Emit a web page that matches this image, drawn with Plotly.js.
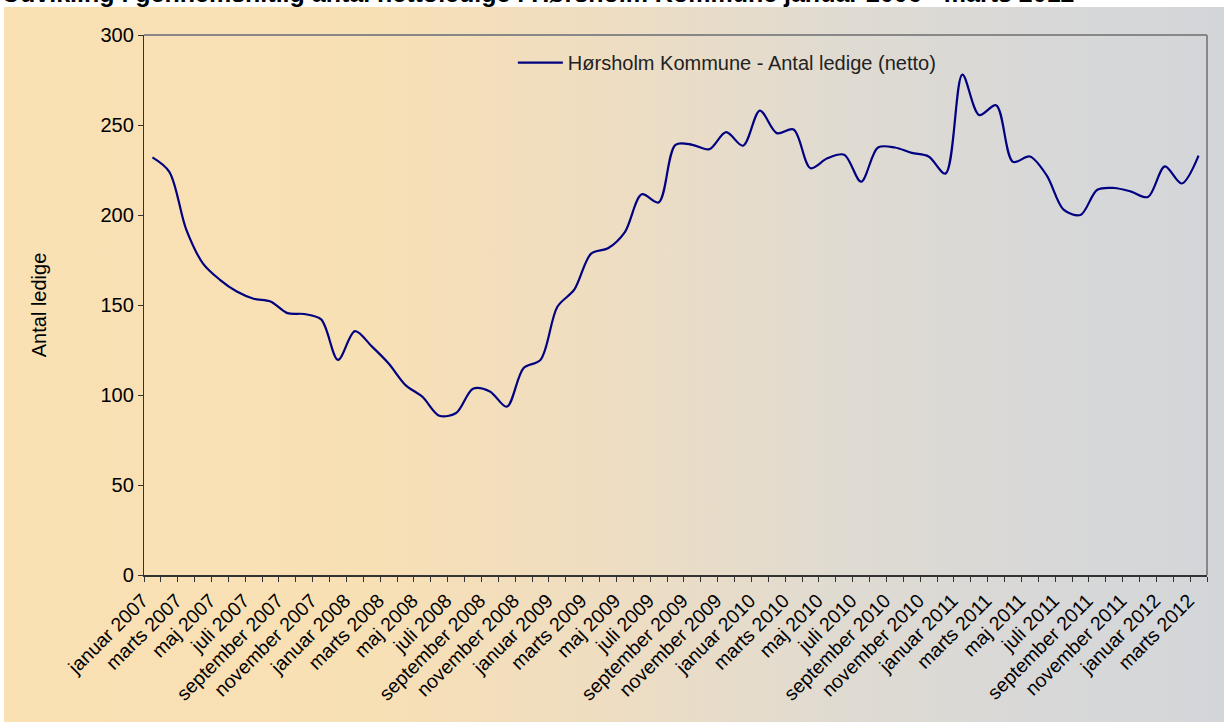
<!DOCTYPE html>
<html>
<head>
<meta charset="utf-8">
<script src="https://cdn.plot.ly/plotly-3.0.1.min.js"></script>
<style>
html,body{margin:0;padding:0;background:#ffffff;overflow:hidden;}
#bg{position:absolute;left:4px;top:7px;width:1220px;height:715px;
background:linear-gradient(to right,#FAE1B4 0%,#F8E0B5 30%,#EEDDC2 50%,#E0DBD1 68%,#D8D8D8 85%,#D3D6D9 100%);}
#chart{position:absolute;left:0;top:0;width:1224px;height:722px;}
</style>
</head>
<body>
<div id="bg"></div>
<div id="chart"></div>
<script>
const monthNames = ["januar","februar","marts","april","maj","juni","juli","august","september","oktober","november","december"];
const startYear = 2007;
const months = [];
for (let i = 0; i < 63; i++) {
  months.push(monthNames[i % 12] + " " + (startYear + Math.floor(i / 12)));
}
const antalLedige = [
  232, 224, 192, 173, 164, 157.5, 153.5, 152, 145.5, 145, 142, 119.5,
  135.5, 127, 117.5, 105.5, 99, 88.5, 90, 103.5, 102, 93.5, 115, 119.5,
  149, 158.5, 178.5, 181.5, 190.5, 211.5, 207, 239, 239, 236.5, 246, 238.5,
  258, 245.5, 247.5, 226, 231.5, 233.5, 218.5, 237.5, 237.5, 234.5, 232.5, 223,
  278, 255.5, 261, 229.5, 232.5, 222, 203, 200, 214, 215, 213, 210,
  227, 217.5, 233
];
const seriesName = "Hørsholm Kommune - Antal ledige (netto)";
const titleText = "Udvikling i gennemsnitlig antal nettoledige i Hørsholm Kommune januar 2006 - marts 2012";
const yTitle = "Antal ledige";
const yTicks = [0, 50, 100, 150, 200, 250, 300];

const xIdx = months.map((m, i) => i);
const tickIdx = xIdx.filter(i => i % 2 === 0);
const tickTxt = tickIdx.map(i => months[i]);

const font = "Arial, 'Liberation Sans', sans-serif";

const trace = {
  x: xIdx,
  y: antalLedige,
  type: "scatter",
  mode: "lines",
  name: seriesName,
  line: {color: "#000080", width: 2.2, shape: "spline", smoothing: 0.9},
  hoverinfo: "skip"
};

const layout = {
  width: 1224, height: 722,
  paper_bgcolor: "rgba(0,0,0,0)",
  plot_bgcolor: "rgba(0,0,0,0)",
  margin: {l: 144, r: 17, t: 35, b: 147},
  showlegend: true,
  annotations: [{
    text: "<b>" + titleText + "</b>",
    xref: "paper", yref: "paper",
    x: 0.371, xanchor: "center",
    y: 1.078, yanchor: "middle",
    showarrow: false,
    font: {family: font, size: 25, color: "#000000"}
  }],
  legend: {
    x: 0.347, y: 0.985, xanchor: "left", yanchor: "top",
    bgcolor: "rgba(0,0,0,0)",
    font: {family: font, size: 20, color: "#222222"},
    itemwidth: 45
  },
  xaxis: {
    type: "linear",
    range: [-0.5, 62.5],
    tickmode: "array",
    tickvals: tickIdx,
    ticktext: tickTxt,
    tickangle: -45,
    ticks: "",
    ticklabelshift: -10,
    ticklabelstandoff: 5,
    tickfont: {family: font, size: 19.5, color: "#000000"},
    showgrid: false,
    zeroline: false,
    showline: true,
    linecolor: "#333333",
    linewidth: 1.5,
    mirror: false,
    minor: {tickmode: "linear", tick0: -0.5, dtick: 1, ticks: "outside", ticklen: 5, tickcolor: "#333333", tickwidth: 1, showgrid: false}
  },
  yaxis: {
    range: [0, 300],
    tickmode: "array",
    tickvals: yTicks,
    ticks: "outside",
    ticklen: 5,
    tickcolor: "#333333",
    tickfont: {family: font, size: 20, color: "#000000"},
    showgrid: false,
    zeroline: false,
    showline: true,
    linecolor: "#333333",
    linewidth: 1.2,
    title: {text: yTitle, font: {family: font, size: 20, color: "#000000"}, standoff: 48}
  },
  shapes: [
    {type: "line", xref: "paper", yref: "paper", x0: 0, x1: 1, y0: 1, y1: 1, line: {color: "#888888", width: 2}},
    {type: "line", xref: "paper", yref: "paper", x0: 1, x1: 1, y0: 0, y1: 1, line: {color: "#888888", width: 2}}
  ]
};

Plotly.newPlot("chart", [trace], layout, {displayModeBar: false, staticPlot: true});
</script>
</body>
</html>
